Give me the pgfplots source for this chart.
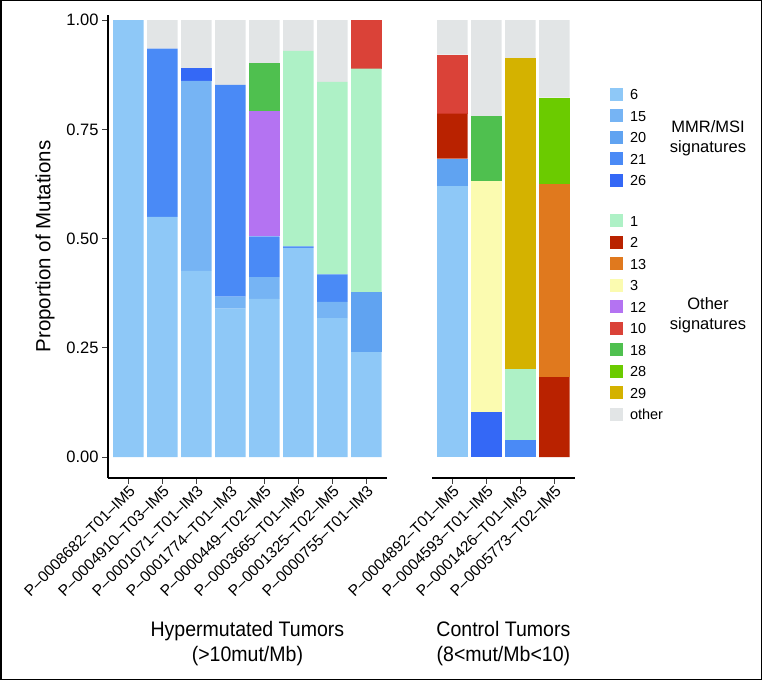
\documentclass[border=0pt]{standalone}
\usepackage{fontspec}
\setmainfont{Liberation Sans}
\usepackage{graphicx}
\usepackage{pgfplots}
\usepackage{pgfplotstable}
\pgfplotsset{compat=1.18}

\definecolor{c6}{HTML}{8EC8F7}
\definecolor{c15}{HTML}{76B4F4}
\definecolor{c20}{HTML}{60A3F1}
\definecolor{c21}{HTML}{4A8AF6}
\definecolor{c26}{HTML}{3468F6}
\definecolor{c1}{HTML}{AEF1C6}
\definecolor{c2}{HTML}{B92200}
\definecolor{c13}{HTML}{E0791E}
\definecolor{c3}{HTML}{FBFBB0}
\definecolor{c12}{HTML}{B473F2}
\definecolor{c10}{HTML}{DA4238}
\definecolor{c18}{HTML}{4FC04F}
\definecolor{c28}{HTML}{6BCB00}
\definecolor{c29}{HTML}{D4B200}
\definecolor{cother}{HTML}{E2E5E6}

\pgfplotstableread{
x s6 s15 s20 s21 s26 s1 s2 s13 s3 s12 s10 s18 s28 s29 sother
1 1.000 0     0     0     0     0     0 0 0 0     0     0     0 0 0
2 0.550 0     0     0.385 0     0     0 0 0 0     0     0     0 0 0.065
3 0.426 0.435 0     0     0.029 0     0 0 0 0     0     0     0 0 0.110
4 0.340 0.027 0     0.485 0     0     0 0 0 0     0     0     0 0 0.148
5 0.362 0.050 0     0.093 0     0     0 0 0 0.287 0     0.110 0 0 0.098
6 0.479 0     0     0.003 0     0.448 0 0 0 0     0     0     0 0 0.070
7 0.318 0.037 0     0.063 0     0.441 0 0 0 0     0     0     0 0 0.141
8 0.240 0     0.137 0     0     0.512 0 0 0 0     0.111 0     0 0 0
}\hyper

\pgfplotstableread{
x s6 s15 s20 s21 s26 s1 s2 s13 s3 s12 s10 s18 s28 s29 sother
1 0.620 0 0.063 0     0     0     0.103 0     0     0 0.135 0     0     0     0.079
2 0     0 0     0     0.102 0     0     0     0.529 0 0     0.150 0     0     0.219
3 0     0 0     0.038 0     0.163 0     0     0     0 0     0     0     0.712 0.087
4 0     0 0     0     0     0     0.183 0.443 0     0 0     0     0.197 0     0.177
}\control

\pgfplotsset{
  sqlegend/.style={legend image code/.code={\fill[##1, draw=none] (0pt,-4.5pt) rectangle (13pt,8.5pt);}},
  common/.style={
    anchor=south west, scale only axis, height=463pt,
    ymin=-0.048, ymax=1.012, xmin=0.4,
    ybar stacked, bar width=0.9,
    axis x line*=bottom,
    axis line style={line width=1.3pt, black},
    tick align=outside, major tick length=6pt,
    tick style={black!75, line width=0.9pt},
    xtick={1,...,8},
    xticklabel style={rotate=45, anchor=north east, inner sep=0pt,
      font=\fontsize{15.5}{16}\selectfont},
    legend cell align=left,
    legend style={draw=none, fill=none, inner sep=0pt, outer sep=0pt,
      anchor=north west, font=\fontsize{14.5}{16}\selectfont,
      row sep=6.5pt,
      nodes={text height=10pt, text depth=3pt, inner sep=0pt},
      /tikz/every odd column/.style={column sep=7pt}},
  },
  bars/.style={fill=#1, draw=none, forget plot},
}

\newcommand{\allbars}[1]{%
  \addplot[bars=c6] table[x=x,y=s6]{#1};
  \addplot[bars=c15] table[x=x,y=s15]{#1};
  \addplot[bars=c20] table[x=x,y=s20]{#1};
  \addplot[bars=c21] table[x=x,y=s21]{#1};
  \addplot[bars=c26] table[x=x,y=s26]{#1};
  \addplot[bars=c1] table[x=x,y=s1]{#1};
  \addplot[bars=c2] table[x=x,y=s2]{#1};
  \addplot[bars=c13] table[x=x,y=s13]{#1};
  \addplot[bars=c3] table[x=x,y=s3]{#1};
  \addplot[bars=c12] table[x=x,y=s12]{#1};
  \addplot[bars=c10] table[x=x,y=s10]{#1};
  \addplot[bars=c18] table[x=x,y=s18]{#1};
  \addplot[bars=c28] table[x=x,y=s28]{#1};
  \addplot[bars=c29] table[x=x,y=s29]{#1};
  \addplot[bars=cother] table[x=x,y=sother]{#1};
}

\begin{document}
\begin{tikzpicture}
\useasboundingbox (0pt,0pt) rectangle (762pt,680pt);
\draw[line width=1.5pt] (0.75pt,0.75pt) rectangle (761.25pt,679.25pt);

\begin{axis}[common,
  at={(108pt,202pt)}, width=278.8pt, xmax=8.6,
  axis y line*=left,
  ytick={0,0.25,0.5,0.75,1},
  yticklabel style={font=\fontsize{16.5}{18}\selectfont,
    /pgf/number format/.cd, fixed, fixed zerofill, precision=2, assume math mode=true},
  xticklabels={P–0008682–T01–IM5,P–0004910–T03–IM5,P–0001071–T01–IM3,P–0001774–T01–IM3,P–0000449–T02–IM5,P–0003665–T01–IM5,P–0001325–T02–IM5,P–0000755–T01–IM3},
  ylabel={Proportion of Mutations},
  ylabel style={at={(axis description cs:-0.226,0.5)}, anchor=center,
    font=\fontsize{20.5}{24}\selectfont},
  xlabel={\scalebox{0.93}[1]{Hypermutated Tumors}\\\scalebox{0.93}[1]{(>10mut/Mb)}},
  xlabel style={at={(axis description cs:0.5,-0.3585)}, anchor=center, align=center,
    font=\fontsize{21}{25}\selectfont},
  legend style={at={(1.8006,0.843)}},
]
\allbars{\hyper}
\addlegendimage{sqlegend, fill=c6}\addlegendentry{6}
\addlegendimage{sqlegend, fill=c15}\addlegendentry{15}
\addlegendimage{sqlegend, fill=c20}\addlegendentry{20}
\addlegendimage{sqlegend, fill=c21}\addlegendentry{21}
\addlegendimage{sqlegend, fill=c26}\addlegendentry{26}
\end{axis}

\begin{axis}[common,
  at={(432pt,202pt)}, width=142.8pt, xmax=4.6,
  axis y line=none,
  xtick={1,2,3,4},
  xticklabels={P–0004892–T01–IM5,P–0004593–T01–IM5,P–0001426–T01–IM3,P–0005773–T02–IM5},
  xlabel={\scalebox{0.93}[1]{Control Tumors}\\\scalebox{0.93}[1]{(8<mut/Mb<10)}},
  xlabel style={at={(axis description cs:0.5,-0.3585)}, anchor=center, align=center,
    font=\fontsize{21}{25}\selectfont},
  legend style={at={(1.2465,0.570)}},
]
\allbars{\control}
\addlegendimage{sqlegend, fill=c1}\addlegendentry{1}
\addlegendimage{sqlegend, fill=c2}\addlegendentry{2}
\addlegendimage{sqlegend, fill=c13}\addlegendentry{13}
\addlegendimage{sqlegend, fill=c3}\addlegendentry{3}
\addlegendimage{sqlegend, fill=c12}\addlegendentry{12}
\addlegendimage{sqlegend, fill=c10}\addlegendentry{10}
\addlegendimage{sqlegend, fill=c18}\addlegendentry{18}
\addlegendimage{sqlegend, fill=c28}\addlegendentry{28}
\addlegendimage{sqlegend, fill=c29}\addlegendentry{29}
\addlegendimage{sqlegend, fill=cother}\addlegendentry{other}
\end{axis}

\node[align=center, font=\fontsize{16.5}{20}\selectfont] at (708pt,542pt) {MMR/MSI\\signatures};
\node[align=center, font=\fontsize{16.5}{20}\selectfont] at (708pt,365pt) {Other\\signatures};
\end{tikzpicture}
\end{document}
